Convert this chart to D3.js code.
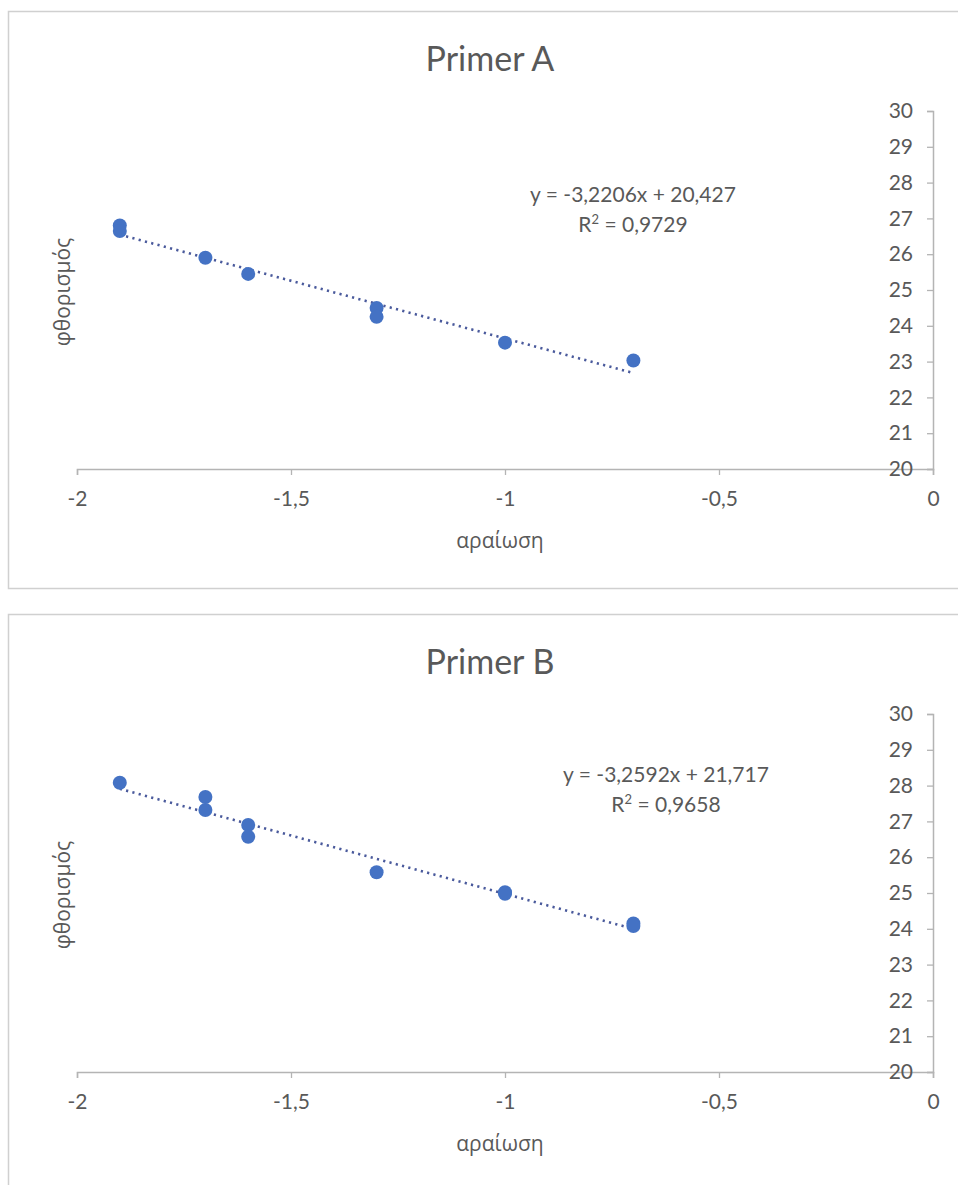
<!DOCTYPE html>
<html>
<head>
<meta charset="utf-8">
<script src="https://cdn.jsdelivr.net/npm/d3@7"></script>
<style>
  html, body { margin: 0; padding: 0; background: #ffffff; }
  svg { display: block; }
  text { font-family: Lato, "Open Sans", sans-serif; fill: #595959; }
  .greek { font-family: "Open Sans", "Noto Sans", sans-serif; }
</style>
</head>
<body>
<script>
// Tick values shared by both charts
const xTicks = [-2, -1.5, -1, -0.5, 0];
const yTicks = [20, 21, 22, 23, 24, 25, 26, 27, 28, 29, 30];

// Primer A: dilution (log) vs fluorescence threshold cycle
const dilutionA = [-1.9, -1.9, -1.7, -1.6, -1.3, -1.3, -1.0, -0.7];
const fluorA    = [26.8, 26.65, 25.9, 25.45, 24.5, 24.25, 23.53, 23.03];
const slopeA = -3.2206, interceptA = 20.427, r2A = 0.9729;

// Primer B
const dilutionB = [-1.9, -1.7, -1.7, -1.6, -1.6, -1.3, -1.0, -1.0, -0.7, -0.7];
const fluorB    = [28.08, 27.68, 27.32, 26.9, 26.57, 25.58, 25.02, 24.98, 24.15, 24.08];
const slopeB = -3.2592, interceptB = 21.717, r2B = 0.9658;

const titles = ["Primer A", "Primer B"];
const xTitle = "αραίωση";
const yTitle = "φθορισμός";

const W = 958, H = 1185;
const locale = d3.formatLocale({ decimal: ",", thousands: ".", grouping: [3], currency: ["", "€"], minus: "-" });
const fmt = v => locale.format("")(v);
const fmtFixed = (v, n) => locale.format("." + n + "f")(v);

const svg = d3.select("body").append("svg").attr("width", W).attr("height", H);

function drawPanel(cfg) {
  const g = svg.append("g").attr("transform", `translate(0,${cfg.top})`);

  // chart area frame
  g.append("rect")
    .attr("x", 8.5).attr("y", 0.5)
    .attr("width", 970).attr("height", cfg.frameH)
    .attr("fill", "#ffffff")
    .attr("stroke", "#d0d0d0").attr("stroke-width", 1.5);

  const x = d3.scaleLinear().domain([-2, 0]).range([77, 933]);
  const y = d3.scaleLinear().domain([20, 30]).range([458, 100]);

  // title
  g.append("text")
    .attr("x", 490).attr("y", 60)
    .attr("text-anchor", "middle")
    .style("font-size", "34px")
    .text(cfg.title);

  // x axis (horizontal line at y = 20)
  const xAxis = g.append("g")
    .attr("transform", `translate(0,${y(20)})`)
    .call(d3.axisBottom(x).tickValues(xTicks).tickSize(6).tickPadding(16).tickFormat(fmt));
  xAxis.select(".domain").attr("stroke", "#b4b4b4").attr("stroke-width", 1.5);
  xAxis.selectAll(".tick line").attr("stroke", "#b4b4b4").attr("stroke-width", 1.3);
  xAxis.selectAll(".tick text")
    .style("font-size", "21px").style("font-family", "Lato, sans-serif").attr("fill", "#595959");

  // y axis on the right side (crossing at x = 0)
  const yAxis = g.append("g")
    .attr("transform", `translate(${x(0)},0)`)
    .call(d3.axisLeft(y).tickValues(yTicks).tickSize(6).tickPadding(14).tickFormat(fmt));
  yAxis.select(".domain").attr("stroke", "#b4b4b4").attr("stroke-width", 1.5);
  yAxis.selectAll(".tick line").attr("stroke", "#b4b4b4").attr("stroke-width", 1.3);
  yAxis.selectAll(".tick text")
    .style("font-size", "21px").style("font-family", "Lato, sans-serif").attr("fill", "#595959");

  // axis titles
  g.append("text")
    .attr("class", "greek")
    .attr("x", 500).attr("y", 537)
    .attr("text-anchor", "middle")
    .style("font-size", "21px")
    .text(xTitle);
  g.append("text")
    .attr("class", "greek")
    .attr("transform", `translate(70,${y(25) + 2}) rotate(-90)`)
    .attr("text-anchor", "middle")
    .style("font-size", "21px")
    .text(yTitle);

  // linear trendline across the data range
  const xs = d3.extent(cfg.xs);
  g.append("line")
    .attr("x1", x(xs[0])).attr("y1", y(cfg.slope * xs[0] + cfg.intercept))
    .attr("x2", x(xs[1])).attr("y2", y(cfg.slope * xs[1] + cfg.intercept))
    .attr("stroke", "#4a5a9c").attr("stroke-width", 2.6)
    .attr("stroke-dasharray", "2.2 4.3");

  // data points
  g.selectAll("circle.pt")
    .data(cfg.xs.map((d, i) => [d, cfg.ys[i]]))
    .join("circle")
    .attr("class", "pt")
    .attr("cx", d => x(d[0])).attr("cy", d => y(d[1]))
    .attr("r", 7)
    .attr("fill", "#4472c4");

  // equation + R² label
  const sign = cfg.intercept >= 0 ? " + " : " - ";
  g.append("text")
    .attr("x", cfg.eqX).attr("y", cfg.eqY)
    .attr("text-anchor", "middle")
    .style("font-size", "21px")
    .text(`y = ${fmtFixed(cfg.slope, 4)}x${sign}${fmtFixed(Math.abs(cfg.intercept), 3)}`);
  const r = g.append("text")
    .attr("x", cfg.eqX).attr("y", cfg.eqY + 30)
    .attr("text-anchor", "middle")
    .style("font-size", "21px");
  r.append("tspan").text("R");
  r.append("tspan").attr("dy", -8).style("font-size", "13px").text("2");
  r.append("tspan").attr("dy", 8).text(` = ${fmtFixed(cfg.r2, 4)}`);
}

drawPanel({
  top: 11, frameH: 577, title: titles[0],
  xs: dilutionA, ys: fluorA,
  slope: slopeA, intercept: interceptA, r2: r2A,
  eqX: 633, eqY: 191
});

drawPanel({
  top: 614, frameH: 700, title: titles[1],
  xs: dilutionB, ys: fluorB,
  slope: slopeB, intercept: interceptB, r2: r2B,
  eqX: 666, eqY: 168
});
</script>
</body>
</html>
